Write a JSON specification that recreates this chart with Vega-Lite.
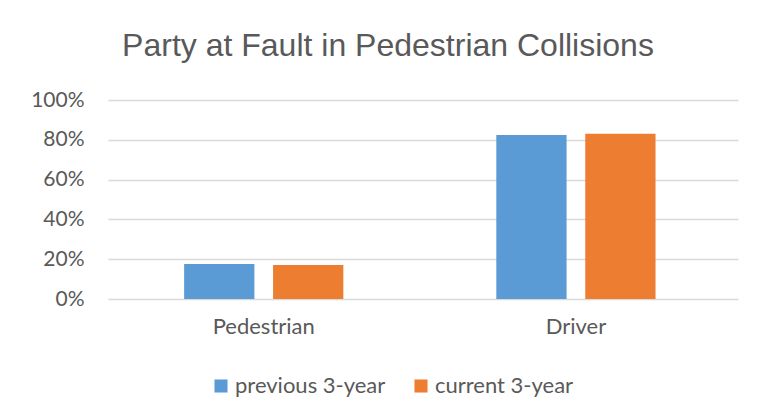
{
  "$schema": "https://vega.github.io/schema/vega-lite/v6.json",
  "width": 630,
  "height": 199,
  "autosize": {"type": "none"},
  "padding": {"left": 108, "top": 100, "right": 22, "bottom": 115},
  "background": "white",
  "title": {
    "text": "Party at Fault in Pedestrian Collisions",
    "font": "Liberation Sans",
    "fontSize": 32,
    "fontWeight": "normal",
    "color": "#595959",
    "anchor": "middle",
    "dx": -35,
    "offset": 26
  },
  "data": {
    "values": [
      {"party": "Pedestrian", "period": "previous 3-year", "share": 0.176},
      {"party": "Pedestrian", "period": "current 3-year", "share": 0.171},
      {"party": "Driver", "period": "previous 3-year", "share": 0.824},
      {"party": "Driver", "period": "current 3-year", "share": 0.831}
    ]
  },
  "mark": {"type": "bar"},
  "encoding": {
    "x": {
      "field": "party",
      "type": "nominal",
      "sort": ["Pedestrian", "Driver"],
      "scale": {"paddingInner": 0.49, "paddingOuter": 0.254, "align": 0.48},
      "axis": {
        "title": null,
        "labelAngle": 0,
        "ticks": false,
        "domain": false,
        "labelFont": "Lato",
        "labelFontSize": 22,
        "labelColor": "#595959",
        "labelPadding": 17
      }
    },
    "xOffset": {
      "field": "period",
      "type": "nominal",
      "sort": ["previous 3-year", "current 3-year"],
      "scale": {"paddingInner": 0.21, "paddingOuter": 0}
    },
    "y": {
      "field": "share",
      "type": "quantitative",
      "scale": {"domain": [0, 1], "nice": false},
      "axis": {
        "title": null,
        "format": ".0%",
        "values": [0, 0.2, 0.4, 0.6, 0.8, 1],
        "ticks": false,
        "domain": false,
        "labelFont": "Lato",
        "labelFontSize": 21,
        "labelColor": "#595959",
        "labelPadding": 24,
        "gridColor": "#D9D9D9",
        "gridWidth": 1.5
      }
    },
    "color": {
      "field": "period",
      "type": "nominal",
      "sort": ["previous 3-year", "current 3-year"],
      "scale": {"domain": ["previous 3-year", "current 3-year"], "range": ["#5B9BD5", "#ED7D31"]},
      "legend": {
        "title": null,
        "orient": "none",
        "direction": "horizontal",
        "legendX": 102,
        "legendY": 275,
        "symbolType": "square",
        "symbolSize": 170,
        "symbolStrokeWidth": 0,
        "labelFont": "Lato",
        "labelFontSize": 22,
        "labelColor": "#595959",
        "labelOffset": 3,
        "columnPadding": 24
      }
    }
  },
  "config": {
    "view": {"stroke": null}
  }
}
